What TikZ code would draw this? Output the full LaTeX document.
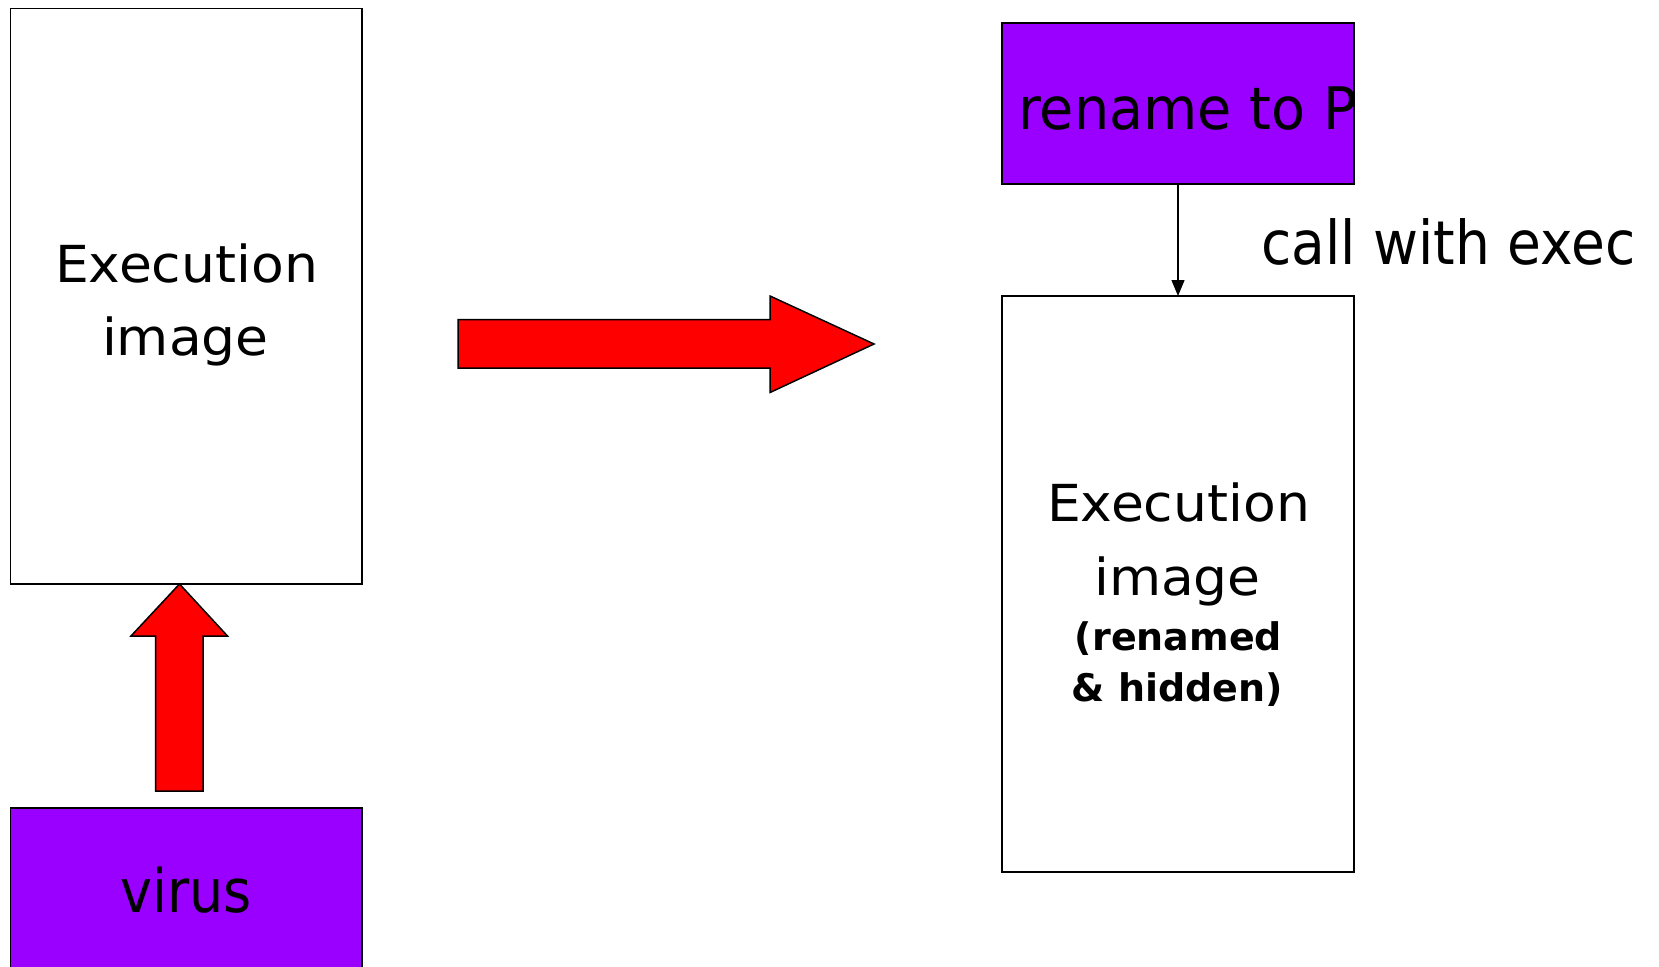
\documentclass[tikz,border=0pt]{standalone}
\usepackage{fontspec}
\usepackage{graphicx}
\setmainfont{DejaVu Sans}
\usetikzlibrary{arrows.meta}
\definecolor{boxpurple}{RGB}{153,0,255}
\definecolor{blockred}{RGB}{255,0,0}

\begin{document}
\begin{tikzpicture}[x=1pt,y=-1pt,
  framebox/.style={draw=black,line width=1.6pt,inner sep=0pt,outer sep=0pt},
  purplebox/.style={framebox,fill=boxpurple},
  label/.style={anchor=base,inner sep=0pt,outer sep=0pt,text=black},
  bigtext/.style={label,font=\fontsize{51}{60}\selectfont},
  smallbold/.style={label,font=\bfseries\fontsize{38}{44}\selectfont},
  fatarrow/.style={draw=black,line width=1.5pt,fill=blockred,line join=miter},
  link/.style={draw=black,line width=1.3pt,-{Triangle[length=16pt,width=13pt]}}]

\useasboundingbox (0,0) rectangle (1659,966);

% left column: original image and the virus below it
\node[framebox,minimum width=351.4pt,minimum height=575.5pt] (img1) at (186.3,296.2) {};
\node[purplebox,minimum width=351.4pt,minimum height=200pt] (virus) at (186.3,908) {};
\node[bigtext] (img1a) at (186.5,282.3) {\scalebox{1.05}[1]{Execution}};
\node[bigtext] (img1b) at (185.5,355) {\scalebox{1.05}[1]{image}};
\node[label,font=\fontsize{60}{70}\selectfont] (virustext) at (186.2,912.7) {\scalebox{0.9}[1]{virus}};

% virus inserted into the image
\draw[fatarrow] (155.5,791) -- (155.5,636) -- (131,636) -- (179.5,584)
  -- (227.5,636) -- (203,636) -- (203,791) -- cycle;

% transformation
\draw[fatarrow] (458,319.5) -- (770,319.5) -- (770,296) -- (874,344)
  -- (770,392.5) -- (770,368) -- (458,368) -- cycle;

% right column: renaming stub and the hidden original
\node[purplebox,minimum width=352pt,minimum height=161pt] (ren) at (1178,103.5) {};
\node[framebox,minimum width=352pt,minimum height=576pt] (img2) at (1178,584) {};
\node[label,font=\fontsize{58.6}{68}\selectfont] (rentext) at (1187.5,129.3) {\scalebox{0.95}[1]{rename to P}};
\node[bigtext] (img2a) at (1178.5,521.6) {\scalebox{1.05}[1]{Execution}};
\node[bigtext] (img2b) at (1177.5,595.6) {\scalebox{1.05}[1]{image}};
\node[smallbold] (img2c) at (1178.5,650.7) {(renamed};
\node[smallbold] (img2d) at (1177.5,701.7) {\& hidden)};

\draw[link] (ren.south) -- (img2.north);
\node[label,font=\fontsize{60.5}{70}\selectfont] (calltext) at (1448.5,264.3) {\scalebox{0.91}[1]{call with exec}};

\end{tikzpicture}
\end{document}
